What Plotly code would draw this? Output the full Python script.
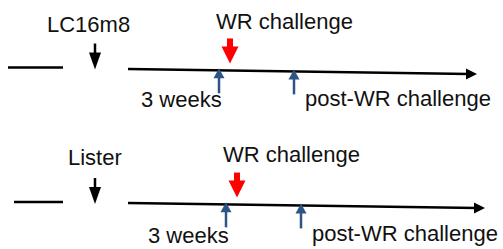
import plotly.graph_objects as go

# ---- data ----
vaccines = ["LC16m8", "Lister"]
challenge_label = "WR challenge"
sample_labels = ["3 weeks", "post-WR challenge"]
vaccination_x = [95, 95]        # vaccination time mark
challenge_x = [230, 237]        # WR challenge time mark
week3_x = [219, 226]            # 3-week sampling mark
post_x = [294, 301]             # post-challenge sampling mark

# ---- layout geometry (styles) ----
row_y = [69, 203]               # timeline y at its start
pre_y = [67.5, 202]
pre_x0 = [8, 14]
pre_x1 = 63
line_x0 = 128
line_tip = [477, 485]
drop = 5.0                      # slight slope of the drawn timeline
BLUE = "#2C5586"
RED = "#FF0000"
FONT = dict(family="Liberation Sans, Arial, sans-serif", size=22, color="#111111")

def line_y(i, x):
    return row_y[i] + (x - line_x0) * drop / (line_tip[i] - line_x0)

shapes, annotations = [], []

def tri(xc, ybase, ytip, half):
    return f"M{xc-half},{ybase} L{xc+half},{ybase} L{xc},{ytip} Z"

for i in range(2):
    # pre-vaccination segment
    shapes.append(dict(type="line", x0=pre_x0[i], x1=pre_x1, y0=pre_y[i], y1=pre_y[i],
                       line=dict(color="black", width=2.5)))
    # main timeline
    tip = line_tip[i]
    ytip = line_y(i, tip)
    shapes.append(dict(type="line", x0=line_x0, x1=tip - 8, y0=row_y[i], y1=line_y(i, tip - 8),
                       line=dict(color="black", width=2.5)))
    shapes.append(dict(type="path",
                       path=f"M{tip-11},{ytip-5.5} L{tip},{ytip} L{tip-11},{ytip+5.5} Z",
                       fillcolor="black", line=dict(width=0)))
    # vaccination arrow (black, down)
    vx = vaccination_x[i]
    vt = pre_y[i] + 2
    shapes.append(dict(type="line", x0=vx, x1=vx, y0=vt - 26, y1=vt - 15,
                       line=dict(color="black", width=2.5)))
    shapes.append(dict(type="path", path=tri(vx, vt - 17, vt, 6),
                       fillcolor="black", line=dict(width=0)))
    # challenge arrow (red, down)
    cx = challenge_x[i]
    ct = line_y(i, cx) - 7
    shapes.append(dict(type="line", x0=cx, x1=cx, y0=ct - 25, y1=ct - 16,
                       line=dict(color=RED, width=6)))
    shapes.append(dict(type="path", path=tri(cx, ct - 17, ct, 8.5),
                       fillcolor=RED, line=dict(width=0)))
    # sampling arrows (blue, up)
    for sx in (week3_x[i], post_x[i]):
        st = line_y(i, sx) - 2
        shapes.append(dict(type="line", x0=sx, x1=sx, y0=st + 8, y1=st + 25,
                           line=dict(color=BLUE, width=2.5)))
        shapes.append(dict(type="path", path=tri(sx, st + 10, st, 5.5),
                           fillcolor=BLUE, line=dict(width=0)))
    # labels
    annotations.append(dict(x=vx - (7 if i == 0 else 0), y=[24, 157.5][i], text=vaccines[i],
                            showarrow=False, xanchor="center", yanchor="middle", font=FONT))
    annotations.append(dict(x=cx + 54, y=[21.5, 154][i], text=challenge_label,
                            showarrow=False, xanchor="center", yanchor="middle", font=FONT))
    annotations.append(dict(x=week3_x[i] - 37.5, y=[99, 235][i], text=sample_labels[0],
                            showarrow=False, xanchor="center", yanchor="middle", font=FONT))
    annotations.append(dict(x=post_x[i] + 103.5, y=[98.5, 233.5][i], text=sample_labels[1],
                            showarrow=False, xanchor="center", yanchor="middle", font=FONT))

fig = go.Figure()
fig.update_layout(
    width=503, height=249, margin=dict(l=0, r=0, t=0, b=0),
    paper_bgcolor="white", plot_bgcolor="white",
    xaxis=dict(range=[0, 503], visible=False, fixedrange=True),
    yaxis=dict(range=[249, 0], visible=False, fixedrange=True),
    shapes=shapes, annotations=annotations, showlegend=False,
)
fig.write_html("out.html", config={"displayModeBar": False},
               post_script="document.body.style.margin='0';document.body.style.overflow='hidden';")
